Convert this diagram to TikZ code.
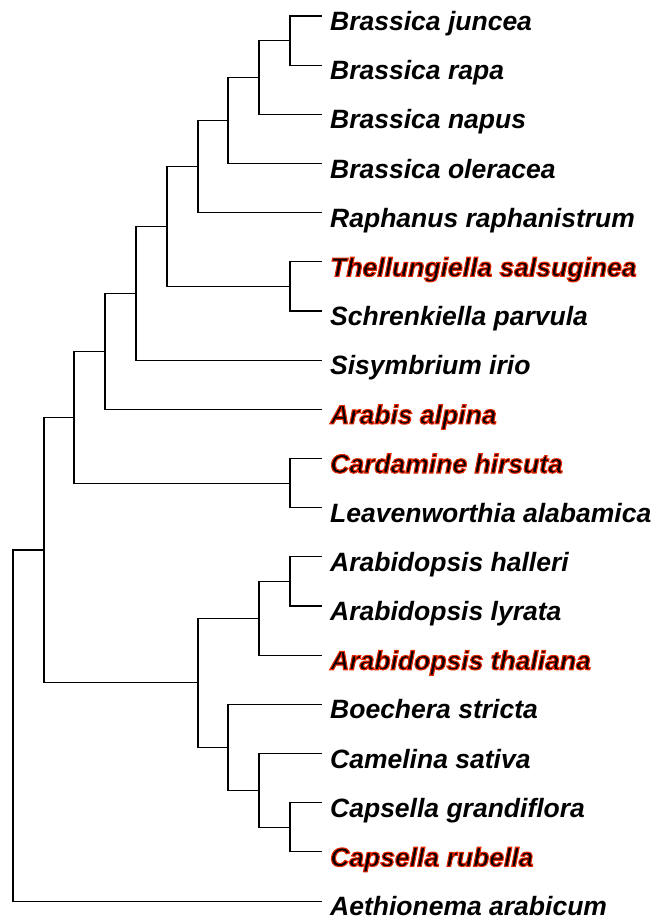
\documentclass[tikz,border=0pt]{standalone}
\usepackage{fontspec}
\setmainfont{Liberation Sans}
\newcommand\redlab[1]{\special{pdf:literal direct 0.9 0.15 0 RG 1.1 w 2 Tr}#1\special{pdf:literal direct 0 Tr 0 G}}
\tikzset{
  branch/.style={line width=1.1pt, black, line cap=rect},
  taxon/.style={anchor=base west, inner sep=0pt, font=\fontsize{26.5}{30}\selectfont\bfseries\itshape},
}
\begin{document}
\begin{tikzpicture}[x=1pt,y=-1pt]
\useasboundingbox (0,0) rectangle (656,921);
% leaf ends
\coordinate (l0) at (321,16);
\coordinate (l1) at (321,65.2);
\coordinate (l2) at (321,114.3);
\coordinate (l3) at (321,163.5);
\coordinate (l4) at (321,212.7);
\coordinate (l5) at (321,261.9);
\coordinate (l6) at (321,311);
\coordinate (l7) at (321,360.2);
\coordinate (l8) at (321,409.4);
\coordinate (l9) at (321,458.5);
\coordinate (l10) at (321,507.7);
\coordinate (l11) at (321,556.9);
\coordinate (l12) at (321,606);
\coordinate (l13) at (321,655.2);
\coordinate (l14) at (321,704.4);
\coordinate (l15) at (321,753.6);
\coordinate (l16) at (321,802.7);
\coordinate (l17) at (321,851.9);
\coordinate (l18) at (321,901.1);
% internal nodes
\coordinate (n1) at (290,40.6);
\coordinate (n2) at (259,77.5);
\coordinate (n3) at (228,120.5);
\coordinate (n4) at (198,166.6);
\coordinate (n5) at (290,286.5);
\coordinate (n6) at (167,226.5);
\coordinate (n7) at (136,293.3);
\coordinate (n8) at (105,351.4);
\coordinate (n9) at (290,483.1);
\coordinate (n10) at (74,417.2);
\coordinate (n11) at (290,581.5);
\coordinate (n12) at (259,618.3);
\coordinate (n13) at (290,827.3);
\coordinate (n14) at (259,790.5);
\coordinate (n15) at (228,747.4);
\coordinate (n16) at (198,682.9);
\coordinate (n17) at (44,550);
\coordinate (root) at (13,725.6);
% branches
\draw[branch] (n1) |- (l0); \draw[branch] (n1) |- (l1);
\draw[branch] (n2) |- (n1); \draw[branch] (n2) |- (l2);
\draw[branch] (n3) |- (n2); \draw[branch] (n3) |- (l3);
\draw[branch] (n4) |- (n3); \draw[branch] (n4) |- (l4);
\draw[branch] (n5) |- (l5); \draw[branch] (n5) |- (l6);
\draw[branch] (n6) |- (n4); \draw[branch] (n6) |- (n5);
\draw[branch] (n7) |- (n6); \draw[branch] (n7) |- (l7);
\draw[branch] (n8) |- (n7); \draw[branch] (n8) |- (l8);
\draw[branch] (n9) |- (l9); \draw[branch] (n9) |- (l10);
\draw[branch] (n10) |- (n8); \draw[branch] (n10) |- (n9);
\draw[branch] (n11) |- (l11); \draw[branch] (n11) |- (l12);
\draw[branch] (n12) |- (n11); \draw[branch] (n12) |- (l13);
\draw[branch] (n13) |- (l16); \draw[branch] (n13) |- (l17);
\draw[branch] (n14) |- (l15); \draw[branch] (n14) |- (n13);
\draw[branch] (n15) |- (l14); \draw[branch] (n15) |- (n14);
\draw[branch] (n16) |- (n12); \draw[branch] (n16) |- (n15);
\draw[branch] (n17) |- (n10); \draw[branch] (n17) |- (n16);
\draw[branch] (root) |- (n17); \draw[branch] (root) |- (l18);
% labels
\node[taxon] (t0) at ([shift={(9,14.5)}]l0) {Brassica juncea};
\node[taxon] (t1) at ([shift={(9,14.5)}]l1) {Brassica rapa};
\node[taxon] (t2) at ([shift={(9,14.5)}]l2) {Brassica napus};
\node[taxon] (t3) at ([shift={(9,14.5)}]l3) {Brassica oleracea};
\node[taxon] (t4) at ([shift={(9,14.5)}]l4) {Raphanus raphanistrum};
\node[taxon] (t5) at ([shift={(9,14.5)}]l5) {\redlab{Thellungiella salsuginea}};
\node[taxon] (t6) at ([shift={(9,14.5)}]l6) {Schrenkiella parvula};
\node[taxon] (t7) at ([shift={(9,14.5)}]l7) {Sisymbrium irio};
\node[taxon] (t8) at ([shift={(9,14.5)}]l8) {\redlab{Arabis alpina}};
\node[taxon] (t9) at ([shift={(9,14.5)}]l9) {\redlab{Cardamine hirsuta}};
\node[taxon] (t10) at ([shift={(9,14.5)}]l10) {Leavenworthia alabamica};
\node[taxon] (t11) at ([shift={(9,14.5)}]l11) {Arabidopsis halleri};
\node[taxon] (t12) at ([shift={(9,14.5)}]l12) {Arabidopsis lyrata};
\node[taxon] (t13) at ([shift={(9,14.5)}]l13) {\redlab{Arabidopsis thaliana}};
\node[taxon] (t14) at ([shift={(9,14.5)}]l14) {Boechera stricta};
\node[taxon] (t15) at ([shift={(9,14.5)}]l15) {Camelina sativa};
\node[taxon] (t16) at ([shift={(9,14.5)}]l16) {Capsella grandiflora};
\node[taxon] (t17) at ([shift={(9,14.5)}]l17) {\redlab{Capsella rubella}};
\node[taxon] (t18) at ([shift={(9,14.5)}]l18) {Aethionema arabicum};
\end{tikzpicture}
\end{document}
